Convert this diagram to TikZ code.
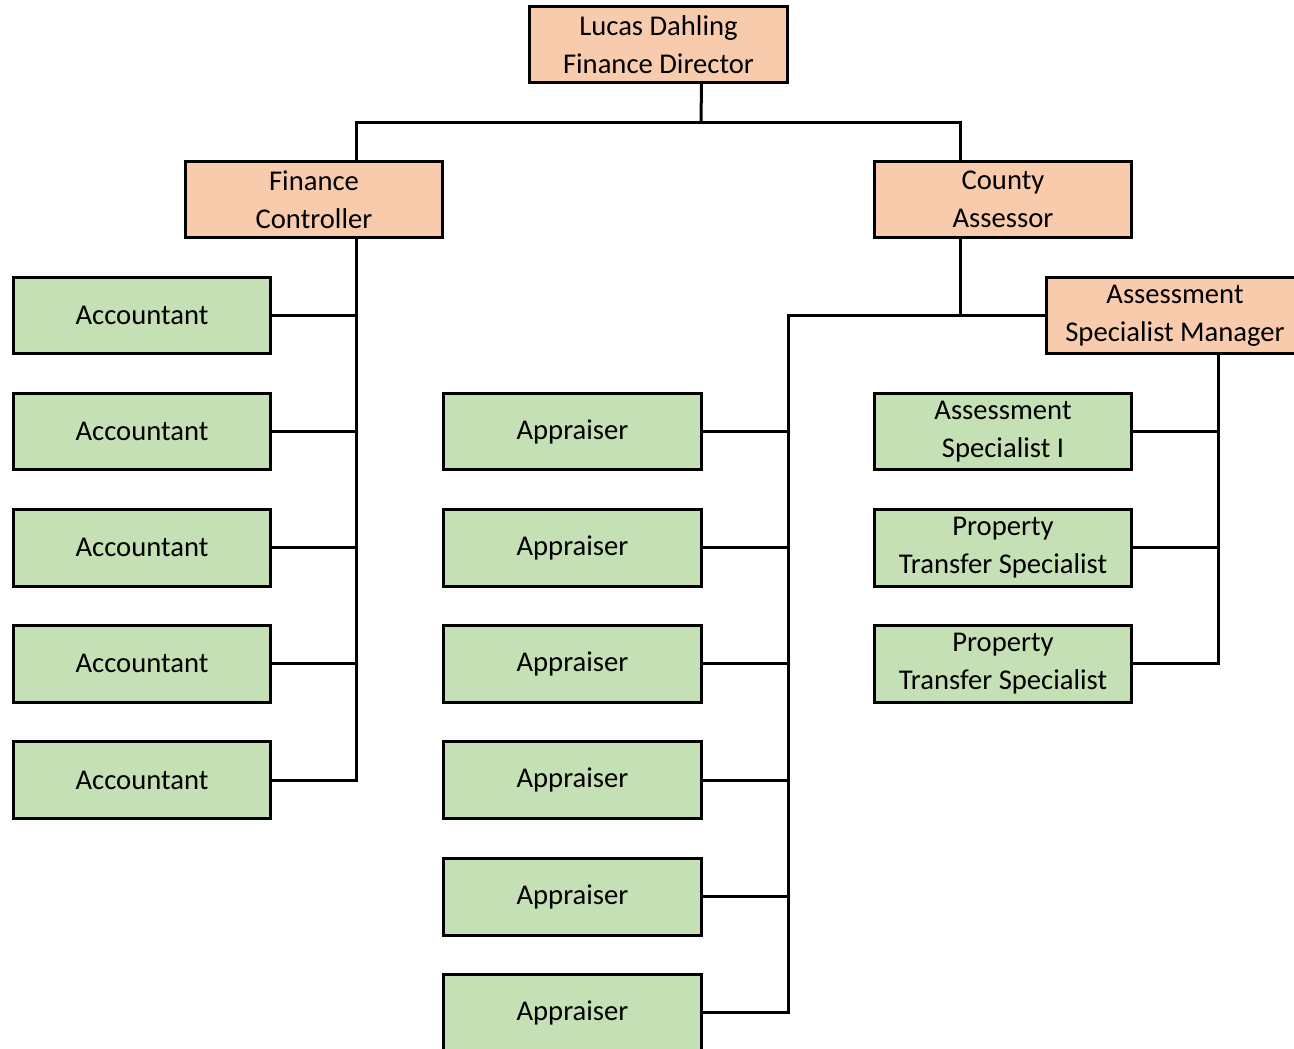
\documentclass[tikz,border=0pt]{standalone}
\usepackage{fontspec}
\setmainfont{Carlito}
\usepackage{xcolor}
\definecolor{orgpeach}{HTML}{F8CBAD}
\definecolor{orggreen}{HTML}{C5E0B4}
\usepackage{tikz}
\usetikzlibrary{positioning,calc}
\tikzset{
  headbox/.style={draw=black, fill=orgpeach, line width=0.06cm, minimum width=5.16cm, minimum height=1.54cm, inner sep=0pt, outer sep=0pt, align=center, font=\fontsize{16.3}{21.6}\selectfont},
  staffbox/.style={headbox, fill=orggreen},
  link/.style={draw=black, line width=0.06cm}
}
\begin{document}
\begin{tikzpicture}[x=0.02cm, y=-0.02cm]
  \useasboundingbox (0,0) rectangle (1294,1048);
  \clip (0,0) rectangle (1294,1048);

  % Top: director
  \node[headbox] (dir) at (658.5,44.5) {Lucas Dahling\\Finance Director};

  % Level 2: controller and assessor
  \node[headbox] (ctrl) at (314,199.5) {Finance\\Controller};
  \node[headbox] (assr) at (1003,199.5) {County\\Assessor};
  \node[headbox] (asmgr) at (1175,315.5) {Assessment\\Specialist Manager};

  %--- Accountants ---
  \node[staffbox] (acc1) at (142,315.5) {Accountant};
  \node[staffbox] (acc2) at (142,431.5) {Accountant};
  \node[staffbox] (acc3) at (142,547.5) {Accountant};
  \node[staffbox] (acc4) at (142,663.5) {Accountant};
  \node[staffbox] (acc5) at (142,780) {Accountant};

  %--- Appraisers ---
  \node[staffbox] (appr1) at (572.5,431.5) {Appraiser};
  \node[staffbox] (appr2) at (572.5,547.5) {Appraiser};
  \node[staffbox] (appr3) at (572.5,663.5) {Appraiser};
  \node[staffbox] (appr4) at (572.5,780) {Appraiser};
  \node[staffbox] (appr5) at (572.5,896.5) {Appraiser};
  \node[staffbox] (appr6) at (572.5,1012.5) {Appraiser};

  %--- Specialists ---
  \node[staffbox] (spec1) at (1003,431.5) {Assessment\\Specialist I};
  \node[staffbox] (ptrans1) at (1003,547.5) {Property\\Transfer Specialist};
  \node[staffbox] (ptrans2) at (1003,663.5) {Property\\Transfer Specialist};

  %--- Connectors ---
  \coordinate (topbus) at (701,122);
  \draw[link] ([xshift=0.86cm]dir.south) -- (topbus);
  \draw[link] ([xshift=0.86cm]ctrl.north) |- (topbus) -| ([xshift=-0.86cm]assr.north);

  % controller to accountants
  \coordinate (accbus) at (357,300);
  \draw[link] ([xshift=0.86cm]ctrl.south) |- (acc5.east);
  \draw[link] (acc1.east) -- (acc1.east -| accbus);
  \draw[link] (acc2.east) -- (acc2.east -| accbus);
  \draw[link] (acc3.east) -- (acc3.east -| accbus);
  \draw[link] (acc4.east) -- (acc4.east -| accbus);

  % assessor to appraisers
  \coordinate (apprbus) at (788,315.5);
  \draw[link] ([xshift=-0.86cm]assr.south) -- ([xshift=-0.86cm]assr.south |- asmgr.west);
  \draw[link] (asmgr.west) -- (apprbus) |- (appr6.east);
  \draw[link] (appr1.east) -- (appr1.east -| apprbus);
  \draw[link] (appr2.east) -- (appr2.east -| apprbus);
  \draw[link] (appr3.east) -- (appr3.east -| apprbus);
  \draw[link] (appr4.east) -- (appr4.east -| apprbus);
  \draw[link] (appr5.east) -- (appr5.east -| apprbus);

  % manager to specialists
  \coordinate (specbus) at (1218,400);
  \draw[link] ([xshift=0.86cm]asmgr.south) |- (ptrans2.east);
  \draw[link] (spec1.east) -- (spec1.east -| specbus);
  \draw[link] (ptrans1.east) -- (ptrans1.east -| specbus);
\end{tikzpicture}
\end{document}
